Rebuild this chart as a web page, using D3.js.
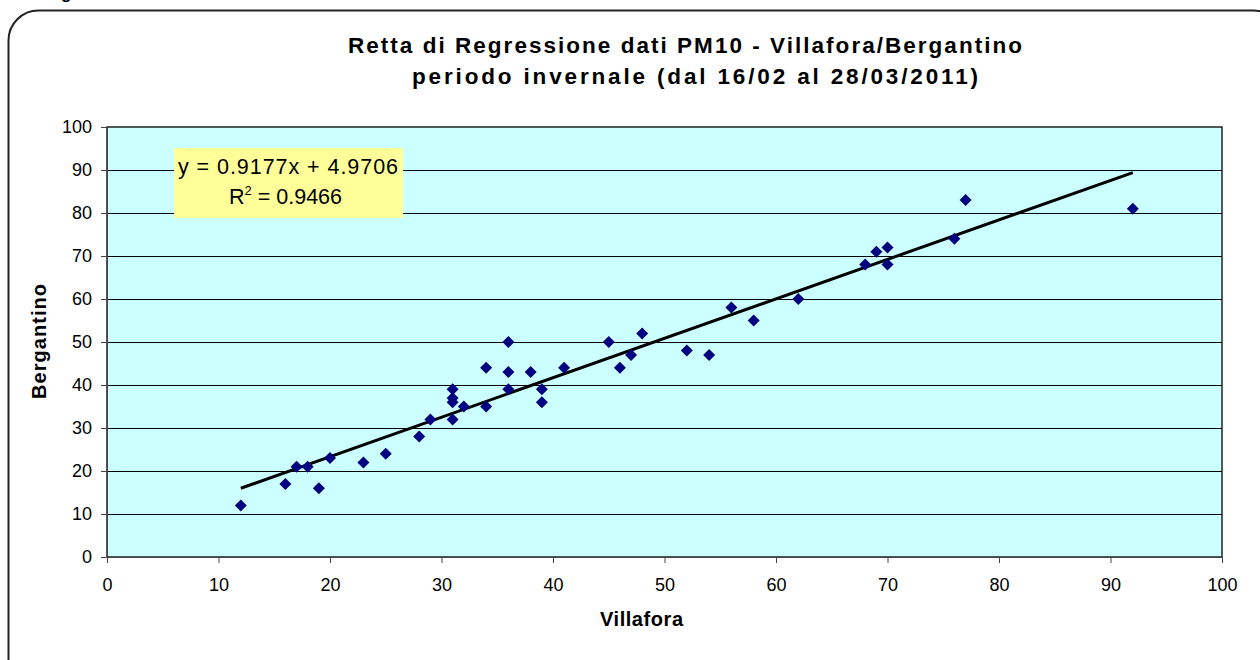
<!DOCTYPE html>
<html>
<head>
<meta charset="utf-8">
<script src="https://cdn.jsdelivr.net/npm/d3@7"></script>
<style>
  body { margin: 0; background: #fff; }
  svg text { font-family: "Liberation Sans", Arial, sans-serif; }
</style>
</head>
<body>
<div id="chart"></div>
<script>
// data
var villafora  = [12, 16, 17, 18, 19, 20, 23, 25, 28, 29, 31, 31, 31, 31, 32, 34, 34, 36, 36, 36,
                  38, 39, 39, 41, 45, 46, 47, 48, 52, 54, 56, 58, 62, 68, 69, 70, 70, 76, 77, 92];
var bergantino = [12, 17, 21, 21, 16, 23, 22, 24, 28, 32, 39, 37, 36, 32, 35, 44, 35, 50, 43, 39,
                  43, 39, 36, 44, 50, 44, 47, 52, 48, 47, 58, 55, 60, 68, 71, 72, 68, 74, 83, 81];
var axisTicks = [0, 10, 20, 30, 40, 50, 60, 70, 80, 90, 100];
var trendSlope = 0.9177, trendIntercept = 4.9706, rSquared = "0.9466";
var titleLines = ["Retta di Regressione dati PM10 - Villafora/Bergantino",
                  "periodo invernale (dal 16/02 al 28/03/2011)"];

var width = 1260, height = 660;
var plot = {left: 107, right: 1222, top: 127, bottom: 557};

var svg = d3.select("#chart").append("svg")
    .attr("width", width)
    .attr("height", height);

// outer rounded frame (runs off the right and bottom edges)
svg.append("rect")
    .attr("x", 8.5).attr("y", 10.5)
    .attr("width", 1275).attr("height", 680)
    .attr("rx", 30).attr("ry", 30)
    .attr("fill", "#fff")
    .attr("stroke", "#222").attr("stroke-width", 2);

// cut off heading above the frame
svg.append("text")
    .attr("x", 61).attr("y", -1)
    .attr("font-size", 17).attr("font-weight", "bold")
    .text("g");

var x = d3.scaleLinear().domain([0, 100]).range([plot.left, plot.right]);
var y = d3.scaleLinear().domain([0, 100]).range([plot.bottom, plot.top]);

// plot area
svg.append("rect")
    .attr("x", plot.left).attr("y", plot.top)
    .attr("width", plot.right - plot.left).attr("height", plot.bottom - plot.top)
    .attr("fill", "#ccffff");

// gridlines
svg.append("g").attr("class", "grid")
  .selectAll("line")
  .data(axisTicks.slice(1, -1))
  .enter().append("line")
    .attr("x1", plot.left).attr("x2", plot.right)
    .attr("y1", function(d) { return Math.round(y(d)) + 0.5; })
    .attr("y2", function(d) { return Math.round(y(d)) + 0.5; })
    .attr("stroke", "#000").attr("stroke-width", 1.2);

svg.append("rect")
    .attr("x", plot.left).attr("y", plot.top)
    .attr("width", plot.right - plot.left).attr("height", plot.bottom - plot.top)
    .attr("fill", "none")
    .attr("stroke", "#222").attr("stroke-width", 1.5);

// axes
var xAxis = svg.append("g")
    .attr("transform", "translate(0," + plot.bottom + ")")
    .call(d3.axisBottom(x).tickValues(axisTicks).tickSize(6).tickPadding(15));
var yAxis = svg.append("g")
    .attr("transform", "translate(" + plot.left + ",0)")
    .call(d3.axisLeft(y).tickValues(axisTicks).tickSize(6).tickPadding(9));

[xAxis, yAxis].forEach(function(a) {
  a.select(".domain").attr("stroke", "#444");
  a.selectAll(".tick line").attr("stroke", "#444");
  a.selectAll(".tick text")
    .attr("font-family", "Liberation Sans, Arial, sans-serif")
    .attr("font-size", 18).attr("fill", "#000");
});

// regression line
var xMin = d3.min(villafora), xMax = d3.max(villafora);
svg.append("line")
    .attr("x1", x(xMin)).attr("y1", y(trendSlope * xMin + trendIntercept))
    .attr("x2", x(xMax)).attr("y2", y(trendSlope * xMax + trendIntercept))
    .attr("stroke", "#000").attr("stroke-width", 3);

// points
var points = villafora.map(function(v, i) { return {x: v, y: bergantino[i]}; });
svg.append("g").attr("class", "points")
  .selectAll("path")
  .data(points)
  .enter().append("path")
    .attr("d", "M0,-6L6,0L0,6L-6,0Z")
    .attr("transform", function(d) { return "translate(" + x(d.x) + "," + y(d.y) + ")"; })
    .attr("fill", "#000080");

// equation label
var lab = svg.append("g").attr("transform", "translate(174,148)");
lab.append("rect")
    .attr("width", 229).attr("height", 70)
    .attr("fill", "#ffff99");
lab.append("text")
    .attr("x", 4).attr("y", 26)
    .attr("font-size", 21.5)
    .attr("textLength", 220).attr("lengthAdjust", "spacing")
    .text("y = " + trendSlope + "x + " + trendIntercept);
var r2 = lab.append("text")
    .attr("x", 55).attr("y", 56)
    .attr("font-size", 21.5);
r2.append("tspan").text("R");
r2.append("tspan").attr("dy", -9).attr("font-size", 13).text("2");
r2.append("tspan").attr("dy", 9).text(" = " + rSquared);

// title
svg.append("text")
    .attr("x", 348).attr("y", 53)
    .attr("font-size", 22.5).attr("font-weight", "bold")
    .attr("textLength", 674).attr("lengthAdjust", "spacing")
    .text(titleLines[0]);
svg.append("text")
    .attr("x", 412).attr("y", 84)
    .attr("font-size", 22.5).attr("font-weight", "bold")
    .attr("textLength", 566).attr("lengthAdjust", "spacing")
    .text(titleLines[1]);

// axis titles
svg.append("text")
    .attr("x", 600).attr("y", 626)
    .attr("font-size", 20).attr("font-weight", "bold")
    .attr("textLength", 83).attr("lengthAdjust", "spacing")
    .text("Villafora");
svg.append("text")
    .attr("transform", "translate(46,399) rotate(-90)")
    .attr("font-size", 20).attr("font-weight", "bold")
    .attr("textLength", 115).attr("lengthAdjust", "spacing")
    .text("Bergantino");
</script>
</body>
</html>
